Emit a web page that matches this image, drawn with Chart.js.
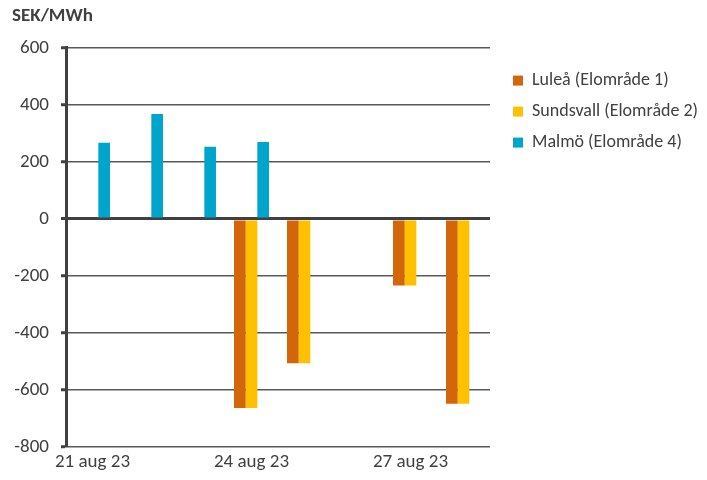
<!DOCTYPE html>
<html>
<head>
<meta charset="utf-8">
<script src="https://cdn.jsdelivr.net/npm/chart.js@4/dist/chart.umd.min.js"></script>
<style>
  html, body { margin: 0; padding: 0; background: #fff; }
  #wrap { width: 707px; height: 480px; }
</style>
</head>
<body>
<div id="wrap"><canvas id="chart"></canvas></div>
<script>
// data
var days = ['21 aug 23', '22 aug 23', '23 aug 23', '24 aug 23', '25 aug 23', '26 aug 23', '27 aug 23', '28 aug 23'];
var lulea = [null, null, null, -663, -506, null, -233, -648];
var sundsvall = [null, null, null, -663, -506, null, -233, -648];
var malmo = [267, 368, 253, 270, null, null, null, null];
var shownDays = ['21 aug 23', '24 aug 23', '27 aug 23'];

var font = 'Carlito, Lato, sans-serif';
var ink = '#404040';

var ctx = document.getElementById('chart');
var myChart = new Chart(ctx, {
    type: 'bar',
    data: {
        labels: days,
        datasets: [
            { label: 'Luleå (Elområde 1)', data: lulea, backgroundColor: '#D4660A' },
            { label: 'Sundsvall (Elområde 2)', data: sundsvall, backgroundColor: '#FFC000' },
            { label: 'Malmö (Elområde 4)', data: malmo, backgroundColor: '#00A5CC' }
        ]
    },
    options: {
        responsive: true,
        maintainAspectRatio: false,
        animation: false,
        datasets: {
            bar: { categoryPercentage: 0.66, barPercentage: 1.0, borderWidth: 0 }
        },
        layout: { padding: { left: 12, right: 0, top: 4, bottom: 2 } },
        plugins: {
            title: {
                display: true,
                text: 'SEK/MWh',
                align: 'start',
                color: ink,
                font: { family: font, size: 19, weight: 'bold' },
                padding: { top: 1, bottom: 20 }
            },
            legend: {
                position: 'right',
                align: 'start',
                maxWidth: 207,
                title: { display: true, text: ' ', padding: { top: 20, bottom: 25 }, font: { size: 8 } },
                labels: {
                    boxWidth: 10,
                    boxHeight: 10,
                    padding: 13,
                    color: ink,
                    font: { family: font, size: 18 }
                }
            },
            tooltip: { enabled: false }
        },
        scales: {
            x: {
                grid: { display: false, drawTicks: false },
                border: { display: false },
                ticks: {
                    autoSkip: false,
                    maxRotation: 0,
                    padding: 4,
                    color: ink,
                    font: { family: font, size: 19 },
                    callback: function(value) {
                        var lab = this.getLabelForValue(value);
                        return shownDays.indexOf(lab) >= 0 ? lab : '';
                    }
                }
            },
            y: {
                min: -800,
                max: 600,
                ticks: {
                    stepSize: 200,
                    padding: 12,
                    color: ink,
                    font: { family: font, size: 19 }
                },
                border: { display: true, width: 3, color: ink },
                grid: {
                    drawTicks: true,
                    tickLength: 5,
                    tickColor: ink,
                    tickWidth: 3,
                    color: function(c) { return c.tick && c.tick.value === 0 ? ink : '#595959'; },
                    lineWidth: function(c) { return c.tick && c.tick.value === 0 ? 3 : 1.5; }
                },
                afterFit: function(scale) { scale.width = 54; }
            },
            // empty spacer between the plot and the legend
            gap: {
                type: 'linear',
                position: 'right',
                display: true,
                grid: { display: false, drawTicks: false },
                border: { display: false },
                ticks: { display: false },
                afterFit: function(scale) { scale.width = 10; }
            }
        }
    }
});
</script>
</body>
</html>
